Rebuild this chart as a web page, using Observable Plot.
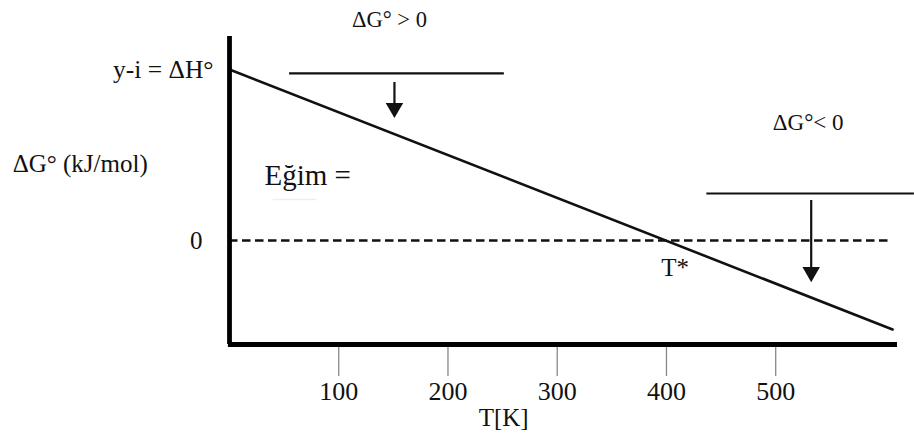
<!DOCTYPE html>
<html><head><meta charset="utf-8">
<script src="https://cdn.jsdelivr.net/npm/d3@7"></script>
<script src="https://cdn.jsdelivr.net/npm/@observablehq/plot@0.6"></script>
<style>
body{margin:0;background:#fff;}
svg{font-family:"Liberation Serif","Times New Roman",serif;}
</style></head><body>
<div id="chart"></div>
<script>
// Data
const T = [0, 607];             // K
const dG = [100, -52];          // ΔG° (arbitrary units), crosses 0 at T*=400
const xTicks = [100, 200, 300, 400, 500];
const xDomain = [0, 611.5];
const yDomain = [-60.8, 119.3];
const zeroLineT = [0, 603];

const lineData = T.map((t, i) => ({T: t, G: dG[i]}));

// annotation bars and arrows
const bars = [{x1: 55, x2: 251.6, y: 97.7}, {x1: 437, x2: 627, y: 27.5}];
const arrows = [{x: 151, y1: 92.4, y2: 79.5, tip: 77.5}, {x: 532.5, y1: 23.4, y2: -16.5, tip: -18.5}];

const centerLabels = [
  {x: 146.4, y: 129.2, text: "ΔG° > 0", size: 22.5},
  {x: 529.7, y: 69, text: "ΔG°< 0", size: 23},
  {x: 408, y: -15.8, text: "T*", size: 25}
];
const startLabels = [
  {x: 32, y: 38, text: "Eğim =", size: 29},
  {x: -198.5, y: 45, text: "ΔG° (kJ/mol)", size: 25}
];
const yLabels = [{y: 100, text: "y-i = ΔH°", dx: -16}, {y: 0, text: "0", dx: -27}];
const xLabel = "T[K]";

const plot = Plot.plot({
  width: 914, height: 435,
  marginLeft: 229, marginRight: 17, marginTop: 36, marginBottom: 91,
  style: {fontFamily: '"Liberation Serif","Times New Roman",serif', fontSize: "24px", color: "#111", overflow: "visible"},
  x: {domain: xDomain},
  y: {domain: yDomain, axis: null},
  marks: [
    Plot.axisX({ticks: xTicks, tickSize: 32, tickPadding: 5, stroke: "#888", strokeWidth: 1.3, label: null, fontSize: 26, fill: "#111", tickFormat: d => String(d)}),
    Plot.ruleY([0], {x1: zeroLineT[0], x2: zeroLineT[1], stroke: "#111", strokeWidth: 2.6, strokeDasharray: "8.5,4.5"}),
    Plot.line(lineData, {x: "T", y: "G", stroke: "#111", strokeWidth: 2.6}),
    Plot.ruleX([0], {y1: yDomain[0], y2: yDomain[1], stroke: "#000", strokeWidth: 4.8}),
    Plot.ruleY([yDomain[0]], {x1: -1, x2: xDomain[1], stroke: "#000", strokeWidth: 4.8}),
    Plot.ruleY(bars, {x1: "x1", x2: "x2", y: "y", stroke: "#111", strokeWidth: 2.2}),
    Plot.ruleX(arrows, {x: "x", y1: "y1", y2: "y2", stroke: "#111", strokeWidth: 2.2}),
    Plot.dot(arrows, {x: "x", y: "tip", symbol: "triangle", rotate: 180, r: 6.5, fill: "#111", stroke: null}),
    Plot.ruleY([24], {x1: 40, x2: 80, stroke: "#eee", strokeWidth: 1.5}),
    Plot.text(centerLabels, {x: "x", y: "y", text: "text", fontSize: "size", textAnchor: "middle", fill: "#111"}),
    Plot.text(startLabels, {x: "x", y: "y", text: "text", fontSize: "size", textAnchor: "start", fill: "#111"}),
    Plot.text(yLabels, {x: 0, y: "y", text: "text", dx: -16, textAnchor: "end", fontSize: 25.5, fill: "#111", filter: d => d.text !== "0"}),
    Plot.text(yLabels, {x: 0, y: "y", text: "text", dx: -27, textAnchor: "end", fontSize: 25, fill: "#111", filter: d => d.text === "0"}),
    Plot.text([xLabel], {x: 251, y: yDomain[0], dy: 73, text: d => d, fontSize: 25, fill: "#111"})
  ]
});
document.getElementById("chart").appendChild(plot);
</script></body></html>
